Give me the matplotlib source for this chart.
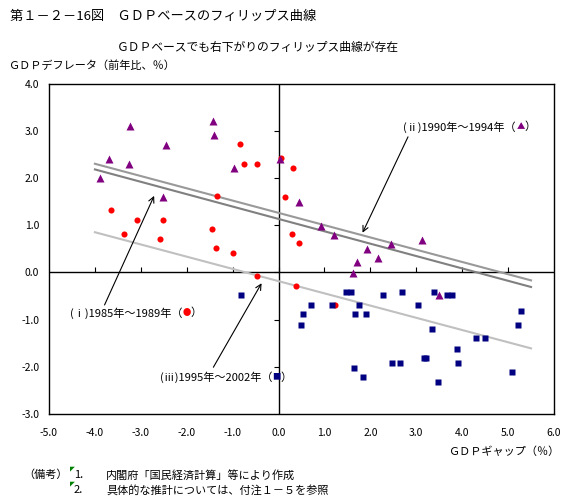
import matplotlib
matplotlib.use('Agg')
import matplotlib.pyplot as plt

plt.rcParams['font.family'] = ['Noto Sans CJK JP', 'DejaVu Sans']

# (i) 1985-1989
gap_85 = [-3.65, -3.37, -3.08, -2.52, -2.59, -1.46, -1.37, -1.35, -1.00, -0.83,
          -0.75, -0.46, -0.48, 0.05, 0.32, 0.15, 0.30, 0.45, 0.37, 1.22]
defl_85 = [1.32, 0.81, 1.10, 1.10, 0.70, 0.91, 0.51, 1.61, 0.40, 2.71,
           2.30, 2.30, -0.08, 2.42, 2.22, 1.60, 0.81, 0.62, -0.28, -0.69]

# (ii) 1990-1994
gap_90 = [-3.89, -3.69, -3.24, -3.26, -2.45, -2.52, -1.43, -1.41, -0.97, 0.03,
          0.45, 0.93, 1.21, 1.93, 1.71, 1.62, 2.17, 2.45, 3.12, 3.49]
defl_90 = [1.99, 2.40, 3.10, 2.29, 2.69, 1.59, 3.21, 2.91, 2.21, 2.40,
           1.49, 0.99, 0.80, 0.50, 0.21, -0.01, 0.31, 0.61, 0.69, -0.49]

# (iii) 1995-2002
gap_95 = [-0.82, 0.48, 0.53, 0.71, 1.17, 1.48, 1.57, 1.64, 1.67, 1.75, 1.84,
          1.91, 2.28, 2.47, 2.65, 2.69, 3.04, 3.16, 3.21, 3.35, 3.38, 3.47,
          3.67, 3.77, 3.88, 3.91, 4.30, 4.50, 5.09, 5.21, 5.28]
defl_95 = [-0.49, -1.11, -0.89, -0.70, -0.70, -0.41, -0.41, -2.02, -0.89, -0.70, -2.21,
           -0.89, -0.49, -1.91, -1.91, -0.41, -0.70, -1.81, -1.81, -1.21, -0.41, -2.32,
           -0.49, -0.49, -1.62, -1.91, -1.40, -1.40, -2.10, -1.11, -0.81]

# regression lines (ends at x=-4 and x=5.5)
line_x = [-4.0, 5.5]
line_a = [2.30, -0.17]
line_b = [2.18, -0.31]
line_c = [0.85, -1.61]

xticks = [-5, -4, -3, -2, -1, 0, 1, 2, 3, 4, 5, 6]
yticks = [-3, -2, -1, 0, 1, 2, 3, 4]

fig = plt.figure(figsize=(5.77, 4.99), dpi=100)
ax = fig.add_axes([49/577, 1 - 414/499, 505/577, 330.5/499])

ax.plot(line_x, line_a, color='#999999', lw=1.5, zorder=2)
ax.plot(line_x, line_b, color='#808080', lw=1.5, zorder=2)
ax.plot(line_x, line_c, color='#c0c0c0', lw=1.5, zorder=2)

ax.plot(gap_85, defl_85, 'o', color='#ff0000', ms=4.4, mec='none', zorder=3)
ax.plot(gap_90, defl_90, '^', color='#800080', ms=5.7, mec='none', zorder=3)
ax.plot(gap_95, defl_95, 's', color='#000080', ms=4.8, mec='none', zorder=4)

ax.axhline(0, color='black', lw=1, zorder=1)
ax.axvline(0, color='black', lw=1, zorder=1)
# small tick marks on the zero lines
ax.plot(xticks[1:-1], [0] * (len(xticks) - 2), ls='none', marker=2, ms=3.5,
        mew=0.8, color='black', zorder=1)
ax.plot([0] * (len(yticks) - 2), yticks[1:-1], ls='none', marker=0, ms=3.5,
        mew=0.8, color='black', zorder=1)

ax.set_xlim(-5, 6)
ax.set_ylim(-3, 4)
ax.set_xticks(xticks)
ax.set_yticks(yticks)
ax.set_xticklabels([f'{v:.1f}' for v in xticks])
ax.set_yticklabels([f'{v:.1f}' for v in yticks])
ax.tick_params(length=0, labelsize=7.5)
ax.tick_params(axis='x', pad=10)
ax.tick_params(axis='y', pad=7)
for s in ax.spines.values():
    s.set_linewidth(1)

fs = 8
arrow = dict(arrowstyle='->', color='black', lw=0.8, shrinkA=0, shrinkB=0)

# (ii)
ax.annotate('', xy=(1.83, 0.84), xytext=(2.82, 2.87), arrowprops=arrow)
ax.text(5.16, 3.08, '(ⅱ)1990年～1994年（', ha='right', va='center', fontsize=fs)
ax.text(5.28, 3.08, '▲', ha='center', va='center', fontsize=6, color='#800080')
ax.text(5.36, 3.08, '）', ha='left', va='center', fontsize=fs)

# (i)
ax.annotate('', xy=(-2.71, 1.62), xytext=(-3.79, -0.69), arrowprops=arrow)
ax.text(-2.09, -0.86, '(ⅰ)1985年～1989年（', ha='right', va='center', fontsize=fs)
ax.text(-1.99, -0.86, '●', ha='center', va='center', fontsize=6, color='#ff0000')
ax.text(-1.91, -0.86, '）', ha='left', va='center', fontsize=fs)

# (iii)
ax.annotate('', xy=(-0.37, -0.23), xytext=(-1.42, -2.01), arrowprops=arrow)
ax.text(-0.14, -2.22, '(ⅲ)1995年～2002年（', ha='right', va='center', fontsize=fs)
ax.text(-0.04, -2.22, '■', ha='center', va='center', fontsize=6, color='#000080')
ax.text(0.04, -2.22, '）', ha='left', va='center', fontsize=fs)

def px(x, y):
    return x / 577, 1 - y / 499

fig.text(*px(10, 16), '第１－２－16図　ＧＤＰベースのフィリップス曲線',
         ha='left', va='center', fontsize=9.5)
fig.text(*px(258, 47), 'ＧＤＰベースでも右下がりのフィリップス曲線が存在',
         ha='center', va='center', fontsize=8.5)
fig.text(*px(8, 66), 'ＧＤＰデフレータ（前年比、％）', ha='left', va='center', fontsize=8)
fig.text(*px(559, 452), 'ＧＤＰギャップ（％）', ha='right', va='center', fontsize=8)

fig.text(*px(23, 475), '（備考）', ha='left', va='center', fontsize=8)
fig.text(*px(74, 475), '1.', ha='left', va='center', fontsize=8)
fig.text(*px(106, 475), '内閣府「国民経済計算」等により作成', ha='left', va='center', fontsize=8)
fig.text(*px(74, 490), '2.', ha='left', va='center', fontsize=8)
fig.text(*px(106, 490), '具体的な推計については、付注１－５を参照', ha='left', va='center', fontsize=8)
for yy in (469, 484):
    fig.text(*px(70, yy), '◤', ha='left', va='center', fontsize=3.5, color='#008000')

fig.savefig('out.png', dpi=100)
